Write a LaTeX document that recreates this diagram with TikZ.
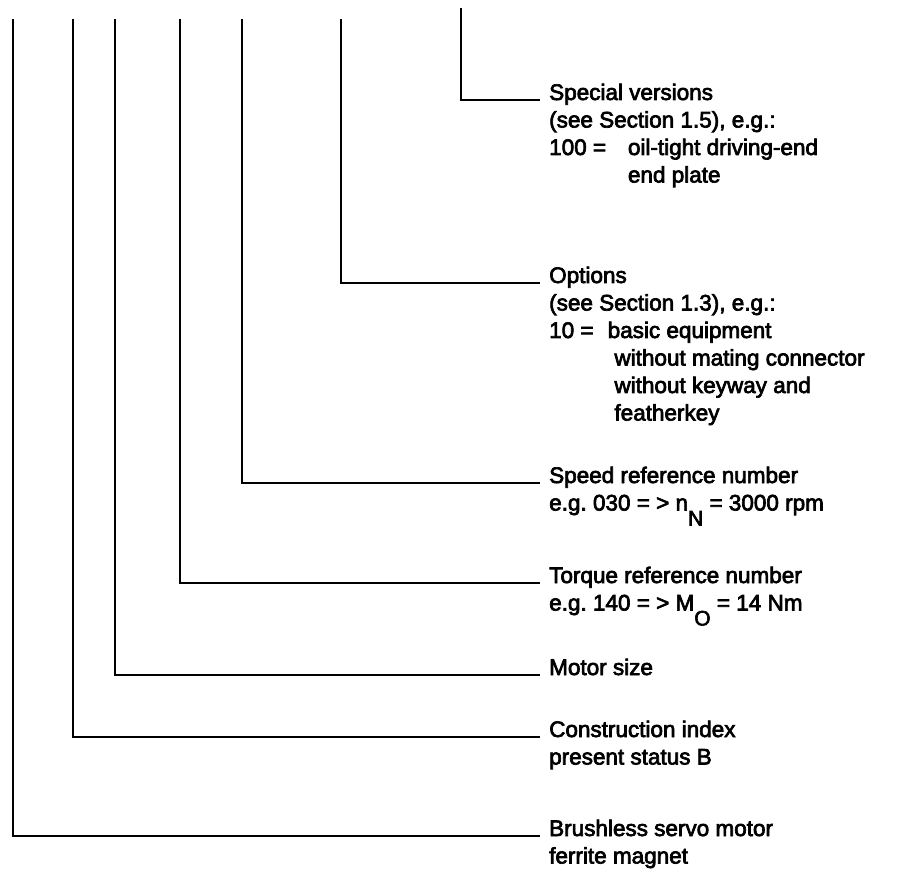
\documentclass[tikz,border=0pt]{standalone}
\usepackage{fontspec}
\setmainfont{Liberation Sans}
\newfontfamily\medfont{Liberation Sans}[FakeBold=3]
\frenchspacing
\newcommand{\rows}[1]{\begin{tabular}[t]{@{}l@{}}#1\end{tabular}}
\newcommand{\tab}[2]{\makebox[#1][l]{#2}}
\newcommand{\lowsub}[1]{\raisebox{-15pt}{\fontsize{21}{21}\selectfont #1}}
\tikzset{
  lead/.style={line width=2.2pt},
  lbl/.style={anchor=base west, inner xsep=9pt, inner ysep=0pt,
    font=\medfont\fontsize{22.5}{27.5}\selectfont}
}
\begin{document}
\begin{tikzpicture}[x=1pt,y=-1pt]
    \useasboundingbox (0,0) rectangle (918,874);

    % Free upper ends of the leader lines
    \coordinate (tBrush) at (13,19);
    \coordinate (tIndex) at (73,19);
    \coordinate (tSize)  at (115,19);
    \coordinate (tTorq)  at (180,19);
    \coordinate (tSpeed) at (242,19);
    \coordinate (tOpt)   at (341,19);
    \coordinate (tSpec)  at (461,8);

    % Explanations, one per position of the type code
    \node[lbl] (spec) at (540,100) {\rows{Special versions\\
      (see Section 1.5), e.g.:\\
      \tab{3.5em}{100 =}oil-tight driving-end\\
      \tab{3.5em}{}end plate}};
    \node[lbl] (opt) at (540,283) {\rows{Options\\
      (see Section 1.3), e.g.:\\
      \tab{2.6em}{10 =}basic equipment\\
      \tab{2.9em}{}without mating connector\\
      \tab{2.9em}{}without keyway and\\
      \tab{2.9em}{}featherkey}};
    \node[lbl] (speed) at (540,483) {\rows{Speed reference number\\
      e.g. 030 = > n\lowsub{N} = 3000 rpm}};
    \node[lbl] (torq) at (540,583) {\rows{Torque reference number\\
      e.g. 140 = > M\lowsub{O} = 14 Nm}};
    \node[lbl] (size) at (540,675) {Motor size};
    \node[lbl] (index) at (540,737) {\rows{Construction index\\
      present status B}};
    \node[lbl] (brush) at (540,836) {\rows{Brushless servo motor\\
      ferrite magnet}};

    % Leader lines
    \draw[lead] (tSpec)  |- (spec.base west);
    \draw[lead] (tOpt)   |- (opt.base west);
    \draw[lead] (tSpeed) |- (speed.base west);
    \draw[lead] (tTorq)  |- (torq.base west);
    \draw[lead] (tSize)  |- (size.base west);
    \draw[lead] (tIndex) |- (index.base west);
    \draw[lead] (tBrush) |- (brush.base west);
\end{tikzpicture}
\end{document}
